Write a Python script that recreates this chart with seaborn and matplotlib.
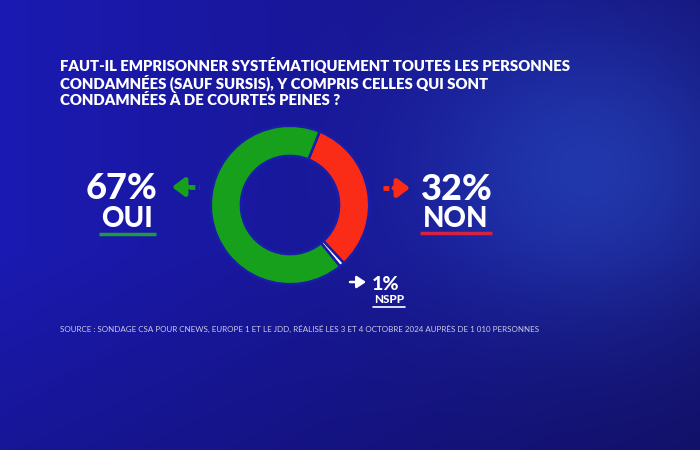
import numpy as np
import matplotlib
matplotlib.use("Agg")
import matplotlib.pyplot as plt
import seaborn as sns
from matplotlib.colors import to_rgb

# ============================================================
# Données du sondage
# ============================================================
QUESTION = ("FAUT-IL EMPRISONNER SYSTÉMATIQUEMENT TOUTES LES PERSONNES\n"
            "CONDAMNÉES (SAUF SURSIS), Y COMPRIS CELLES QUI SONT\n"
            "CONDAMNÉES À DE COURTES PEINES ?")
SOURCE = ("SOURCE : SONDAGE CSA POUR CNEWS, EUROPE 1 ET LE JDD, RÉALISÉ LES 3 ET 4 "
          "OCTOBRE 2024 AUPRÈS DE 1 010 PERSONNES")

answers = ["NON", "NSPP", "OUI"]
shares = [32, 1, 67]
slice_colors = ["#fb2c17", "#ffffff", "#16a01c"]

sns.set_theme(style="white")
plt.rcParams["font.family"] = ["Lato", "DejaVu Sans"]

W, H = 700, 450
fig = plt.figure(figsize=(7, 4.5), dpi=100)

# ------------------------------------------------------------
# Fond dégradé bleu
# ------------------------------------------------------------
bg = fig.add_axes([0, 0, 1, 1])
yy, xx = np.mgrid[0:H, 0:W]
left = np.array(to_rgb("#1b1ab2"))
right = np.array(to_rgb("#15137a"))
t = (xx / W)[..., None]
img = left * (1 - t) + right * t
glow = np.exp(-(((xx - 590) / 170.0) ** 2 + ((yy - 170) / 150.0) ** 2))[..., None]
img = img * (1 - 0.5 * glow) + np.array(to_rgb("#2c5ad4")) * 0.5 * glow
bottom = np.clip((yy - 250) / 200.0, 0, 1)[..., None]
img = img * (1 - 0.15 * bottom)
bg.imshow(img, extent=[0, W, H, 0], aspect="auto")
bg.set_xlim(0, W)
bg.set_ylim(H, 0)
bg.axis("off")

white = "#ffffff"
green = slice_colors[2]
red = slice_colors[0]

# Titre
bg.text(60, 57, QUESTION, color=white, fontsize=10.7, fontweight="heavy",
        va="top", ha="left", linespacing=1.12)

# ------------------------------------------------------------
# Anneau
# ------------------------------------------------------------
cx, cy, r = 290, 205, 80
ax = fig.add_axes([(cx - r) / W, (H - cy - r) / H, 2 * r / W, 2 * r / H])
ax.pie(shares, colors=slice_colors, startangle=68, counterclock=False,
       radius=1.0,
       wedgeprops=dict(width=0.38, edgecolor="#1a1da8", linewidth=1.8))
ax.set_xlim(-1.01, 1.01)
ax.set_ylim(-1.01, 1.01)
ax.set_aspect("equal")
ax.axis("off")

# ------------------------------------------------------------
# Étiquettes
# ------------------------------------------------------------
# OUI
bg.text(122, 199, f"{shares[2]}%", color=white, fontsize=26, fontweight="black",
        ha="center", va="baseline")
bg.text(127, 227, answers[2], color=white, fontsize=20, fontweight="black",
        ha="center", va="baseline")
bg.plot([99, 156], [234, 234], color="#1f9a3c", lw=2.5, solid_capstyle="butt")
bg.annotate("", xy=(172, 187), xytext=(188, 187),
            arrowprops=dict(arrowstyle="-|>,head_length=0.6,head_width=0.45",
                            color=green, lw=3.5, shrinkA=0, shrinkB=0))
bg.plot([189, 199], [187, 187], color=green, lw=3.5, ls=(0, (1.2, 0.8)))

# NON
bg.text(457, 200, f"{shares[0]}%", color=white, fontsize=26, fontweight="black",
        ha="center", va="baseline")
bg.text(456, 227, answers[0], color=white, fontsize=20, fontweight="black",
        ha="center", va="baseline")
bg.plot([420, 492], [233, 233], color="#d42240", lw=2.5, solid_capstyle="butt")
bg.annotate("", xy=(410, 188), xytext=(394, 188),
            arrowprops=dict(arrowstyle="-|>,head_length=0.6,head_width=0.45",
                            color=red, lw=3.5, shrinkA=0, shrinkB=0))
bg.plot([383, 393], [188, 188], color=red, lw=3.5, ls=(0, (1.2, 0.8)))

# NSPP
bg.text(386, 290, f"{shares[1]}%", color=white, fontsize=14, fontweight="black",
        ha="center", va="baseline")
bg.text(389, 303, answers[1], color=white, fontsize=8.5, fontweight="black",
        ha="center", va="baseline")
bg.plot([373, 405], [307, 307], color=white, lw=1.2)
bg.annotate("", xy=(366, 282), xytext=(350, 282),
            arrowprops=dict(arrowstyle="-|>,head_length=0.45,head_width=0.3",
                            color=white, lw=1.8, shrinkA=0, shrinkB=0))

# Source
bg.text(60, 332, SOURCE, color="#c9cbe6", fontsize=5.8, ha="left", va="baseline")

fig.savefig("out.png", dpi=100)
